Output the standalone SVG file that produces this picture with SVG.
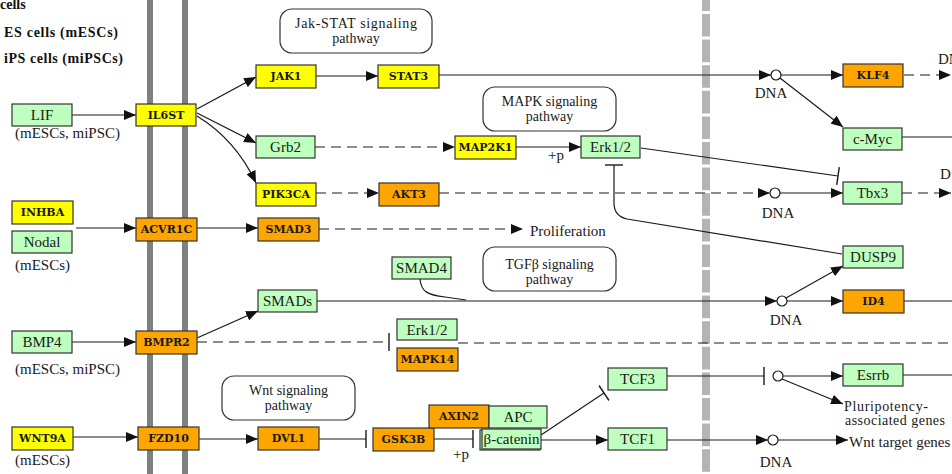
<svg xmlns="http://www.w3.org/2000/svg" width="952" height="474" viewBox="0 0 952 474">
  <style>
    .bg { fill: #ffffff; }
    .pm { fill: #808080; }
    .nm { stroke: #b4b4b4; stroke-width: 8; stroke-dasharray: 22.6 3; stroke-dashoffset: 11.6; fill: none; }
    .box { stroke: #333333; stroke-width: 1.2; }
    .g { fill: #bfffbf; }
    .y { fill: #ffff00; }
    .o { fill: #ffa500; }
    .pw { fill: #ffffff; stroke: #333333; stroke-width: 1.2; }
    .t { font-family: "Liberation Serif", "Times New Roman", serif; font-size: 15px; fill: #1a1a1a; }
    .m { font-size: 14px; }
    .c { text-anchor: middle; }
    .gene { font-family: "DejaVu Serif", "Liberation Serif", serif; font-size: 11px; font-weight: bold; fill: #1a1a1a; text-anchor: middle; }
    .hd { font-family: "Liberation Serif", "Times New Roman", serif; font-size: 14px; font-weight: bold; fill: #111111; }
    .ln { stroke: #1a1a1a; stroke-width: 1.2; fill: none; }
    .d { stroke-dasharray: 10 6; }
    .dna { fill: #ffffff; stroke: #1a1a1a; stroke-width: 1.2; }
  </style>
  <defs>
    <marker id="arr" markerUnits="userSpaceOnUse" markerWidth="12" markerHeight="10" viewBox="0 0 12 10" refX="12" refY="5" orient="auto">
      <path d="M0,0 L12,5 L0,10 z" fill="#111111"/>
    </marker>
    <marker id="bar" markerUnits="userSpaceOnUse" markerWidth="4" markerHeight="18" viewBox="0 0 4 18" refX="2" refY="9" orient="auto">
      <path d="M2,0 V18" stroke="#1a1a1a" stroke-width="1.4"/>
    </marker>
  </defs>

  <rect class="bg" x="0" y="0" width="952" height="474"/>

  <!-- cell membrane (double bar) and nuclear envelope -->
  <g id="membranes">
    <rect class="pm" x="147" y="0" width="6" height="474"/>
    <rect class="pm" x="182" y="0" width="6" height="474"/>
    <line class="nm" x1="706" y1="0" x2="706" y2="474"/>
  </g>

  <!-- header -->
  <g id="header">
    <text class="hd" x="0" y="9">cells</text>
    <text class="hd" x="4" y="37" textLength="114">ES cells (mESCs)</text>
    <text class="hd" x="4" y="63" textLength="119">iPS cells (miPSCs)</text>
  </g>

  <!-- pathway reference boxes -->
  <g id="pw-jakstat">
    <rect class="pw" x="280" y="9" width="152" height="44" rx="12"/>
    <text class="t m c" x="356" y="28" textLength="122">Jak-STAT signaling</text>
    <text class="t m c" x="356" y="43">pathway</text>
  </g>
  <g id="pw-mapk">
    <rect class="pw" x="483" y="87" width="133" height="44" rx="12"/>
    <text class="t m c" x="549.5" y="106">MAPK signaling</text>
    <text class="t m c" x="549.5" y="121">pathway</text>
  </g>
  <g id="pw-tgfb">
    <rect class="pw" x="483" y="247" width="133" height="44" rx="12"/>
    <text class="t m c" x="549.5" y="269">TGFβ signaling</text>
    <text class="t m c" x="549.5" y="284">pathway</text>
  </g>
  <g id="pw-wnt">
    <rect class="pw" x="222" y="376" width="133" height="44" rx="12"/>
    <text class="t m c" x="288.5" y="395">Wnt signaling</text>
    <text class="t m c" x="288.5" y="410">pathway</text>
  </g>

  <!-- connectors -->
  <g id="connectors">
    <!-- LIF / IL6ST branch -->
    <path class="ln" d="M72,115 L136,115" marker-end="url(#arr)"/>
    <path class="ln" d="M197,109 L256,77" marker-end="url(#arr)"/>
    <path class="ln" d="M197,113 L256,143" marker-end="url(#arr)"/>
    <path class="ln" d="M197,116 Q236,140 256,183" marker-end="url(#arr)"/>
    <path class="ln" d="M316,76 L378,76" marker-end="url(#arr)"/>
    <path class="ln" d="M439,75 L771,75" marker-end="url(#arr)"/>
    <path class="ln" d="M781,75 L843,75" marker-end="url(#arr)"/>
    <path class="ln" d="M780,78 L843,127" marker-end="url(#arr)"/>
    <path class="ln d" d="M904,75 L951,75" marker-end="url(#arr)"/>
    <path class="ln" d="M902,137 L952,137"/>
    <path class="ln d" d="M315,147 L455,147" marker-end="url(#arr)"/>
    <path class="ln" d="M516,147 L581,147" marker-end="url(#arr)"/>
    <path class="ln" d="M641,148 L838,176" marker-end="url(#bar)"/>
    <path class="ln d" d="M316,193 L379,193" marker-end="url(#arr)"/>
    <path class="ln d" d="M439,193 L770,193" marker-end="url(#arr)"/>
    <path class="ln" d="M780,193 L843,193" marker-end="url(#arr)"/>
    <path class="ln d" d="M902,193 L951,193" marker-end="url(#arr)"/>
    <!-- DUSP9 inhibits Erk1/2 -->
    <path class="ln" d="M842,254 L627,219 Q614,216 614,203 L614,165" marker-end="url(#bar)"/>

    <!-- Activin / Nodal -->
    <path class="ln" d="M76,228 L136,228" marker-end="url(#arr)"/>
    <path class="ln" d="M197,228 L258,228" marker-end="url(#arr)"/>
    <path class="ln d" d="M319,229 L523,229" marker-end="url(#arr)"/>

    <!-- BMP4 -->
    <path class="ln" d="M72,342 L136,342" marker-end="url(#arr)"/>
    <path class="ln" d="M197,338 L258,311" marker-end="url(#arr)"/>
    <path class="ln" d="M317,301 L777,301" marker-end="url(#arr)"/>
    <path class="ln" d="M420,279 C421,292 428,295 445,297 L466,300"/>
    <path class="ln" d="M787,301 L843,301" marker-end="url(#arr)"/>
    <path class="ln" d="M786,298 L843,266" marker-end="url(#arr)"/>
    <path class="ln" d="M904,301 L952,301"/>
    <path class="ln d" d="M197,342 L389,342" marker-end="url(#bar)"/>
    <path class="ln d" d="M458,343 L952,343"/>

    <!-- Wnt -->
    <path class="ln" d="M73,437 L138,437" marker-end="url(#arr)"/>
    <path class="ln" d="M199,439 L258,439" marker-end="url(#arr)"/>
    <path class="ln" d="M319,439 L366,439" marker-end="url(#bar)"/>
    <path class="ln" d="M434,439 L473,439" marker-end="url(#bar)"/>
    <path class="ln" d="M541,435 L604,393" marker-end="url(#bar)"/>
    <path class="ln" d="M541,440 L608,440" marker-end="url(#arr)"/>
    <path class="ln" d="M667,376 L764,376" marker-end="url(#bar)"/>
    <path class="ln" d="M783,376 L843,376" marker-end="url(#arr)"/>
    <path class="ln" d="M782,379 L843,404" marker-end="url(#arr)"/>
    <path class="ln" d="M903,375 L952,375"/>
    <path class="ln" d="M667,440 L768,440" marker-end="url(#arr)"/>
    <path class="ln" d="M778,440 L848,440" marker-end="url(#arr)"/>

    <!-- DNA binding sites -->
    <circle class="dna" cx="776" cy="75" r="5"/>
    <circle class="dna" cx="775" cy="193" r="5"/>
    <circle class="dna" cx="782" cy="301" r="5"/>
    <circle class="dna" cx="778" cy="376" r="5"/>
    <circle class="dna" cx="773" cy="440" r="5"/>
  </g>

  <!-- free labels -->
  <g id="labels">
    <text class="t" x="15" y="138">(mESCs, miPSC)</text>
    <text class="t" x="15" y="270">(mESCs)</text>
    <text class="t" x="15" y="374">(mESCs, miPSC)</text>
    <text class="t" x="15" y="465">(mESCs)</text>
    <text class="t" x="548" y="160">+p</text>
    <text class="t" x="453" y="459">+p</text>
    <text class="t" x="530" y="236">Proliferation</text>
    <text class="t c" x="771" y="98">DNA</text>
    <text class="t c" x="778" y="218">DNA</text>
    <text class="t c" x="786" y="325">DNA</text>
    <text class="t c" x="776" y="467">DNA</text>
    <text class="t" x="938" y="64">DN</text>
    <text class="t" x="940" y="179">D</text>
    <text class="t m" x="844" y="411" textLength="84">Pluripotency-</text>
    <text class="t m" x="845" y="425" textLength="100">associated genes</text>
    <text class="t" x="849" y="447">Wnt target genes</text>
  </g>

  <!-- gene products -->
  <g id="LIF"><rect class="box g" x="12" y="104" width="60" height="22"/><text class="t c" x="42" y="120">LIF</text></g>
  <g id="IL6ST"><rect class="box y" x="136" y="104" width="60" height="22"/><text class="gene" x="166" y="119">IL6ST</text></g>
  <g id="JAK1"><rect class="box y" x="256" y="65" width="60" height="23"/><text class="gene" x="286" y="80">JAK1</text></g>
  <g id="STAT3"><rect class="box y" x="378" y="65" width="61" height="23"/><text class="gene" x="408.5" y="80">STAT3</text></g>
  <g id="Grb2"><rect class="box g" x="256" y="136" width="59" height="22"/><text class="t c" x="285.5" y="152">Grb2</text></g>
  <g id="MAP2K1"><rect class="box y" x="455" y="136" width="61" height="23"/><text class="gene" x="485.5" y="151">MAP2K1</text></g>
  <g id="Erk12-a"><rect class="box g" x="581" y="136" width="59" height="22"/><text class="t c" x="610.5" y="152">Erk1/2</text></g>
  <g id="PIK3CA"><rect class="box y" x="256" y="183" width="60" height="23"/><text class="gene" x="286" y="198">PIK3CA</text></g>
  <g id="AKT3"><rect class="box o" x="379" y="183" width="60" height="23"/><text class="gene" x="409" y="198">AKT3</text></g>
  <g id="KLF4"><rect class="box o" x="843" y="64" width="60" height="23"/><text class="gene" x="873" y="79">KLF4</text></g>
  <g id="c-Myc"><rect class="box g" x="843" y="128" width="59" height="22"/><text class="t c" x="872.5" y="144">c-Myc</text></g>
  <g id="Tbx3"><rect class="box g" x="843" y="182" width="59" height="22"/><text class="t c" x="872.5" y="198">Tbx3</text></g>

  <g id="INHBA"><rect class="box y" x="12" y="201" width="61" height="23"/><text class="gene" x="42.5" y="216">INHBA</text></g>
  <g id="Nodal"><rect class="box g" x="12" y="231" width="60" height="22"/><text class="t c" x="42" y="247">Nodal</text></g>
  <g id="ACVR1C"><rect class="box o" x="136" y="218" width="61" height="23"/><text class="gene" x="166.5" y="233">ACVR1C</text></g>
  <g id="SMAD3"><rect class="box o" x="258" y="218" width="61" height="23"/><text class="gene" x="288.5" y="233">SMAD3</text></g>
  <g id="DUSP9"><rect class="box g" x="843" y="246" width="60" height="22"/><text class="t c" x="873" y="262">DUSP9</text></g>

  <g id="SMAD4"><rect class="box g" x="392" y="257" width="59" height="22"/><text class="t c" x="421.5" y="273">SMAD4</text></g>
  <g id="SMADs"><rect class="box g" x="258" y="290" width="59" height="22"/><text class="t c" x="287.5" y="306">SMADs</text></g>
  <g id="ID4"><rect class="box o" x="843" y="290" width="61" height="23"/><text class="gene" x="873.5" y="305">ID4</text></g>
  <g id="BMP4"><rect class="box g" x="12" y="331" width="60" height="22"/><text class="t c" x="42" y="347">BMP4</text></g>
  <g id="BMPR2"><rect class="box o" x="136" y="331" width="61" height="23"/><text class="gene" x="166.5" y="346">BMPR2</text></g>
  <g id="Erk12-b"><rect class="box g" x="397" y="319" width="60" height="21"/><text class="t c" x="427" y="335">Erk1/2</text></g>
  <g id="MAPK14"><rect class="box o" x="397" y="348" width="61" height="23"/><text class="gene" x="427.5" y="363">MAPK14</text></g>

  <g id="TCF3"><rect class="box g" x="608" y="368" width="59" height="22"/><text class="t c" x="637.5" y="384">TCF3</text></g>
  <g id="Esrrb"><rect class="box g" x="843" y="364" width="60" height="22"/><text class="t c" x="873" y="380">Esrrb</text></g>
  <g id="WNT9A"><rect class="box y" x="12" y="427" width="61" height="23"/><text class="gene" x="42.5" y="442">WNT9A</text></g>
  <g id="FZD10"><rect class="box o" x="138" y="427" width="61" height="23"/><text class="gene" x="168.5" y="442">FZD10</text></g>
  <g id="DVL1"><rect class="box o" x="258" y="427" width="61" height="23"/><text class="gene" x="288.5" y="442">DVL1</text></g>
  <g id="GSK3B"><rect class="box o" x="373" y="428" width="61" height="23"/><text class="gene" x="403.5" y="443">GSK3B</text></g>
  <g id="AXIN2"><rect class="box o" x="429" y="405" width="60" height="23"/><text class="gene" x="459" y="420">AXIN2</text></g>
  <g id="APC"><rect class="box g" x="489" y="406" width="58" height="22"/><text class="t c" x="518" y="422">APC</text></g>
  <g id="beta-catenin">
    <rect class="box g" x="480" y="430" width="60" height="20"/>
    <rect class="box g" x="482" y="429" width="59" height="20"/>
    <text class="t c" x="511.5" y="444">β-catenin</text>
  </g>
  <g id="TCF1"><rect class="box g" x="608" y="428" width="59" height="22"/><text class="t c" x="637.5" y="444">TCF1</text></g>
</svg>
